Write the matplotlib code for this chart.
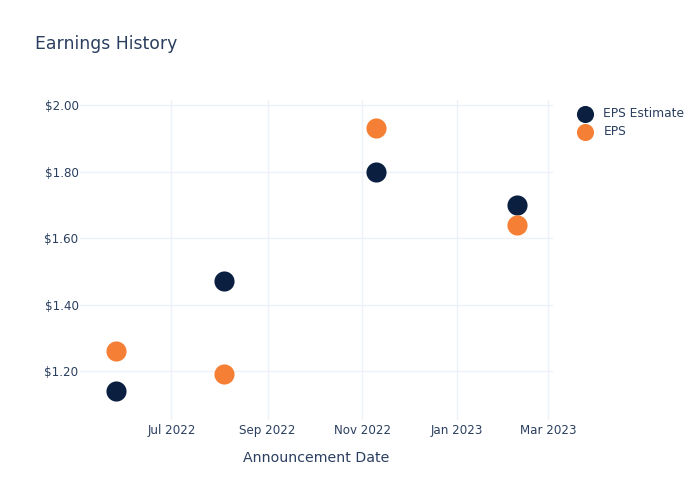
import pandas as pd
import matplotlib.pyplot as plt
import matplotlib.dates as mdates
from matplotlib.ticker import FuncFormatter

dates = pd.to_datetime(["2022-05-26", "2022-08-04", "2022-11-10", "2023-02-09"])
eps_estimate = [1.14, 1.47, 1.80, 1.70]
eps_actual = [1.26, 1.19, 1.93, 1.64]

text_color = "#2a3f5f"
grid_color = "#edf1f8"

fig = plt.figure(figsize=(7, 5), dpi=100)
ax = fig.add_axes([80 / 700, 80 / 500, 473 / 700, 320 / 500])

ax.scatter(dates, eps_estimate, s=210, color="#0b1f41", label="EPS Estimate", zorder=3, linewidths=0)
ax.scatter(dates, eps_actual, s=210, color="#f58035", label="EPS", zorder=3, linewidths=0)

ax.set_xlim(pd.Timestamp("2022-05-03"), pd.Timestamp("2023-03-04"))
ax.set_ylim(1.053, 2.015)

ax.xaxis.set_major_locator(mdates.MonthLocator(bymonth=[1, 3, 5, 7, 9, 11]))
ax.xaxis.set_major_formatter(mdates.DateFormatter("%b %Y"))
ax.set_yticks([1.2, 1.4, 1.6, 1.8, 2.0])
ax.yaxis.set_major_formatter(FuncFormatter(lambda v, p: f"${v:.2f}"))

for s in ax.spines.values():
    s.set_visible(False)
ax.grid(True, color=grid_color, linewidth=1)
ax.set_axisbelow(True)
ax.tick_params(length=0, labelsize=8.6, colors=text_color)
ax.tick_params(axis="x", pad=3)
ax.tick_params(axis="y", pad=1)

ax.set_xlabel("Announcement Date", fontsize=10.2, color=text_color, labelpad=10)
fig.text(35 / 700, 1 - 44 / 500, "Earnings History", fontsize=12.4, color=text_color, va="center", ha="left")

ax.legend(loc="upper left", bbox_to_anchor=(568 / 700, 1 - 102 / 500), bbox_transform=fig.transFigure,
          frameon=False, fontsize=8.8, labelcolor=text_color, handletextpad=0.5,
          labelspacing=0.4, borderaxespad=0, markerscale=0.85)

plt.savefig("out.png")
